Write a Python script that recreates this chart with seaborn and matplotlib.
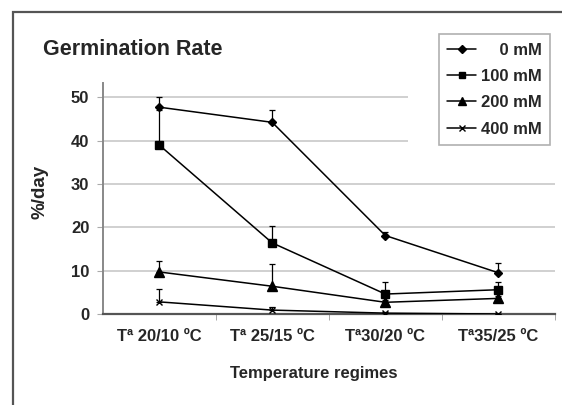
import numpy as np
import pandas as pd
import matplotlib
matplotlib.use("Agg")
import matplotlib.pyplot as plt
from matplotlib.patches import Rectangle
import seaborn as sns

# Data
regimes = ["Tª 20/10 ºC", "Tª 25/15 ºC", "Tª30/20 ºC", "Tª35/25 ºC"]
labels = ["    0 mM", "100 mM", "200 mM", "400 mM"]
rate_0 = [47.7, 44.2, 18.1, 9.5]
rate_100 = [39.0, 16.4, 4.6, 5.6]
rate_200 = [9.7, 6.4, 2.7, 3.6]
rate_400 = [2.8, 0.9, 0.2, 0.0]
err_0 = [2.4, 2.9, 0.7, 2.3]
err_100 = [8.0, 3.8, 2.8, 1.8]
err_200 = [2.6, 5.2, 0.5, 0.5]
err_400 = [3.0, 0.6, 0.2, 0.0]
markers = ["D", "s", "^", "x"]
msizes = [4.5, 6, 6.5, 5]

def build_frame():
    rows = []
    for lab, vals, errs in zip(labels, [rate_0, rate_100, rate_200, rate_400],
                               [err_0, err_100, err_200, err_400]):
        for i, (v, e) in enumerate(zip(vals, errs)):
            rows.append({"pos": i, "regime": regimes[i], "conc": lab, "rate": v, "err": e})
    return pd.DataFrame(rows)

df = build_frame()

sns.set_style("white")
plt.rcParams["font.family"] = ["Liberation Sans", "DejaVu Sans"]
plt.rcParams["font.weight"] = "bold"

fig = plt.figure(figsize=(5.62, 4.05), dpi=100)
ax = fig.add_axes([102.5 / 562, 1 - 314 / 405, 452.5 / 562, 230.7 / 405])

for lab, mk, ms in zip(labels, markers, msizes):
    sub = df[df["conc"] == lab]
    ax.errorbar(sub["pos"], sub["rate"], yerr=[np.zeros(len(sub)), sub["err"]],
                fmt="none", ecolor="black", elinewidth=0.9, capsize=2.5, capthick=0.9, zorder=3)
    sns.lineplot(x=sub["pos"], y=sub["rate"], ax=ax, color="black", marker=mk,
                 markersize=ms, markeredgecolor="black", markeredgewidth=1.0,
                 linewidth=1.1, label=lab, zorder=4)

ax.set_xlim(-0.5, 3.5)
ax.set_ylim(0, 53.2)
ax.set_yticks([0, 10, 20, 30, 40, 50])
ax.set_xticks(range(len(regimes)))
ax.set_xticklabels(regimes, fontsize=12, fontweight="bold")
ax.set_xticks([0.5, 1.5, 2.5, 3.5], minor=True)
ax.tick_params(axis="x", which="major", length=0, pad=11)
ax.tick_params(axis="x", which="minor", length=4, color="#999999", direction="out", bottom=True)
ax.tick_params(axis="y", length=4, color="#aaaaaa", left=True, labelsize=12, pad=5.5)
for t in ax.get_yticklabels():
    t.set_fontweight("bold")

ax.set_axisbelow(True)
ax.yaxis.grid(True, color="#c4c4c4", linewidth=1.1)
ax.xaxis.grid(False)
for s in ["top", "right"]:
    ax.spines[s].set_visible(False)
ax.spines["bottom"].set_color("#555555")
ax.spines["bottom"].set_linewidth(1.6)
ax.spines["left"].set_color("#888888")
ax.spines["left"].set_linewidth(1.4)

ax.set_xlabel("Temperature regimes", fontsize=12, fontweight="bold")
ax.xaxis.set_label_coords(0.467, -0.225)
ax.set_ylabel("%/day", fontsize=13.5, fontweight="bold")
ax.yaxis.set_label_coords(-0.12, 0.527)

# white area behind the legend hiding the gridlines
ax.add_patch(Rectangle((407.5 / 562, 1 - 150 / 405), 160 / 562, 150 / 405,
                       transform=fig.transFigure, facecolor="white", edgecolor="none",
                       zorder=0.8, clip_on=False))

leg = ax.legend(loc="upper right", bbox_to_anchor=(550 / 562, 1 - 34.3 / 405),
                bbox_transform=fig.transFigure, frameon=True, fancybox=False,
                framealpha=1, edgecolor="#b0b0b0", fontsize=12, handlelength=1.7,
                handletextpad=0.3, labelspacing=0.68, borderpad=0.5, borderaxespad=0,
                markerscale=0.8)
leg.get_frame().set_linewidth(1.2)
for t in leg.get_texts():
    t.set_fontweight("bold")

fig.text(43 / 562, 1 - 55 / 405, "Germination Rate", fontsize=15.5, fontweight="bold",
         ha="left", va="baseline")

# outer frame
fig.patches.append(Rectangle((13.3 / 562, -0.1), 1.2, 1.1 - 12 / 405,
                             transform=fig.transFigure, fill=False,
                             edgecolor="#555555", linewidth=1.6))

fig.savefig("out.png", dpi=100, facecolor="white")
